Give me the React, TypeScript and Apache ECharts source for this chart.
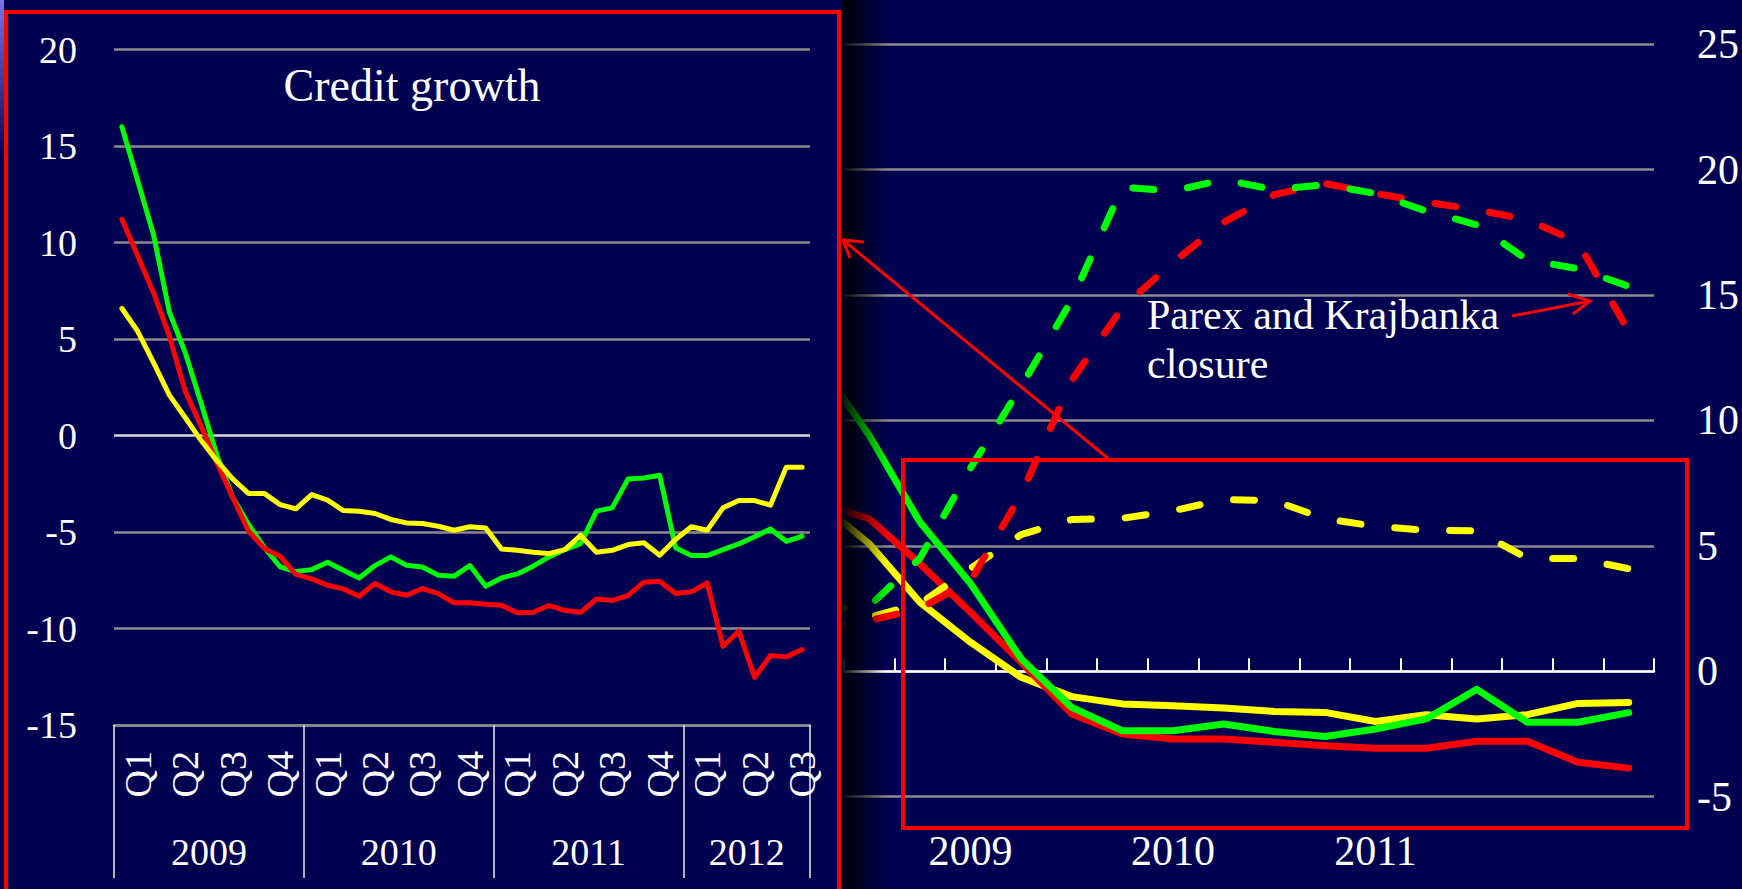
import React, { useEffect, useRef } from 'react';
import * as echarts from 'echarts';

const NAVY = '#000050';
const GREEN = '#00ff00';
const RED = '#ff0000';
const YELLOW = '#ffff00';
const GRID_GRAY = '#8a8a8a';
const FONT = "'Liberation Serif', 'Times New Roman', serif";

// ---------- Inset: monthly credit growth, Jan 2009 – Aug 2012 ----------
const insetYears = ['2009', '2010', '2011', '2012'];
const insetMonthsPerYear = [12, 12, 12, 8];
const quarterNames = ['Q1', 'Q2', 'Q3', 'Q4'];
const insetYMin = -15;
const insetYMax = 20;
const insetYStep = 5;
const insetTitle = 'Credit growth';

const creditGreen = [
  16.0, 13.2, 10.4, 6.4, 4.3, 1.7, -1.0, -3.2, -4.6, -5.8, -6.8, -7.05,
  -6.95, -6.57, -6.98, -7.38, -6.74, -6.29, -6.72, -6.81, -7.24, -7.29, -6.74, -7.81,
  -7.38, -7.17, -6.77, -6.29, -5.91, -5.6, -3.92, -3.75, -2.25, -2.2, -2.06, -5.82,
  -6.22, -6.22, -5.91, -5.62, -5.25, -4.84, -5.48, -5.22,
];
const creditRed = [
  11.2, 9.3, 7.4, 5.15, 2.3, 0.5, -1.4, -3.2, -4.95, -5.85, -6.26, -7.2,
  -7.43, -7.76, -7.95, -8.33, -7.67, -8.1, -8.28, -7.93, -8.19, -8.67, -8.67, -8.74,
  -8.8, -9.19, -9.16, -8.81, -9.06, -9.16, -8.47, -8.55, -8.28, -7.6, -7.55, -8.19,
  -8.1, -7.64, -10.92, -10.14, -12.53, -11.4, -11.47, -11.09,
];
const creditYellow = [
  6.58, 5.4, 3.78, 2.09, 0.93, -0.25, -1.3, -2.25, -3.0, -3.0, -3.58, -3.8,
  -3.06, -3.35, -3.89, -3.92, -4.04, -4.35, -4.53, -4.56, -4.7, -4.91, -4.73, -4.79,
  -5.88, -5.95, -6.05, -6.12, -5.91, -5.18, -6.05, -5.95, -5.65, -5.56, -6.2, -5.39,
  -4.73, -4.91, -3.75, -3.37, -3.37, -3.61, -1.64, -1.64,
];

// ---------- Background chart: quarterly, 2008Q1 – 2012Q2 ----------
const bgQuarters = [
  '2008Q1', '2008Q2', '2008Q3', '2008Q4',
  '2009Q1', '2009Q2', '2009Q3', '2009Q4',
  '2010Q1', '2010Q2', '2010Q3', '2010Q4',
  '2011Q1', '2011Q2', '2011Q3', '2011Q4',
  '2012Q1', '2012Q2',
];
const bgYearLabels = ['2009', '2010', '2011'];
const bgYMin = -5;
const bgYMax = 25;
const bgYStep = 5;
const annotationText = 'Parex and Krajbanka\nclosure';

const solidGreen = [13.5, 12.3, 9.4, 5.95, 3.5, 0.5, -1.44, -2.37, -2.37, -2.1, -2.4, -2.6, -2.3, -1.9, -0.72, -2.03, -2.03, -1.65];
const solidRed = [7.2, 6.7, 6.08, 4.29, 2.35, 0.36, -1.7, -2.5, -2.7, -2.7, -2.83, -2.97, -3.07, -3.07, -2.79, -2.79, -3.63, -3.86];
const solidYellow = [7.5, 6.75, 5.08, 2.75, 1.16, -0.24, -1.01, -1.3, -1.37, -1.46, -1.6, -1.64, -2.0, -1.73, -1.9, -1.73, -1.28, -1.24];
const dashedGreen = [2.3, 2.45, 2.6, 4.5, 8.1, 11.35, 14.8, 19.3, 19.15, 19.6, 19.2, 19.4, 19.05, 18.35, 17.8, 16.4, 16.05, 15.35];
const dashedRed = [1.4, 1.55, 2.02, 2.5, 3.6, 7.05, 11.6, 14.5, 16.3, 17.9, 19.0, 19.45, 19.05, 18.7, 18.4, 18.0, 17.1, 13.55];
const dashedYellow = [1.3, 1.6, 2.15, 2.7, 4.1, 5.45, 6.05, 6.1, 6.4, 6.85, 6.8, 6.08, 5.78, 5.62, 5.6, 4.5, 4.5, 4.09];

function buildInsetOption() {
  const monthNames: string[] = [];
  const monthQuarterLabel: string[] = [];
  insetYears.forEach((y, yi) => {
    for (let m = 0; m < insetMonthsPerYear[yi]; m++) {
      monthNames.push(`${y}-${m + 1}`);
      monthQuarterLabel.push(m % 3 === 1 ? quarterNames[Math.floor(m / 3)] : '');
    }
  });
  const totalMonths = monthNames.length;
  const slotNames: string[] = [];
  const slotLabel: string[] = [];
  for (let s = 0; s <= totalMonths * 2; s++) {
    slotNames.push('s' + s);
    slotLabel.push('');
  }
  const separators = new Set<number>();
  let start = 0;
  insetYears.forEach((y, yi) => {
    const cnt = insetMonthsPerYear[yi];
    separators.add(start * 2);
    slotLabel[start * 2 + cnt] = y;
    start += cnt;
  });
  separators.add(start * 2);

  const lbl = { color: '#ffffff', fontFamily: FONT, fontSize: 38 };
  const mkSeries = (name: string, data: number[], color: string) => ({
    name,
    type: 'line',
    data,
    xAxisIndex: 0,
    symbol: 'none',
    lineStyle: { color, width: 5, join: 'round', cap: 'round' },
    itemStyle: { color },
  });

  return {
    animation: false,
    backgroundColor: NAVY,
    grid: { left: 114, top: 49.5, width: 696, height: 675.5, containLabel: false },
    graphic: [
      {
        type: 'rect',
        shape: { x: 0, y: 0, width: 4, height: 160 },
        style: {
          fill: new echarts.graphic.LinearGradient(0, 0, 0, 1, [
            { offset: 0, color: 'rgba(130,130,255,0.9)' },
            { offset: 1, color: 'rgba(130,130,255,0)' },
          ]),
        },
        z: 20,
        silent: true,
      },
      {
        type: 'rect',
        shape: { x: 6, y: 12, width: 833, height: 900 },
        style: { fill: 'transparent', stroke: RED, lineWidth: 4 },
        z: 20,
        silent: true,
      },
      {
        type: 'text',
        x: 412,
        y: 85,
        style: {
          text: insetTitle,
          fill: '#ffffff',
          fontFamily: FONT,
          fontSize: 46,
          align: 'center',
          verticalAlign: 'middle',
        },
        z: 20,
      },
    ],
    xAxis: [
      {
        type: 'category',
        data: monthNames,
        position: 'bottom',
        boundaryGap: true,
        axisLine: { onZero: false, lineStyle: { color: GRID_GRAY, width: 2.5 } },
        axisTick: { show: false },
        axisLabel: {
          ...lbl,
          interval: 0,
          rotate: 90,
          margin: 26,
          formatter: (_v: string, i: number) => monthQuarterLabel[i],
        },
        splitLine: { show: false },
      },
      {
        type: 'category',
        data: slotNames,
        position: 'bottom',
        boundaryGap: false,
        axisLine: { show: false, onZero: false },
        axisTick: {
          show: true,
          interval: (i: number) => separators.has(i),
          length: 153,
          lineStyle: { color: '#e8e8e8', width: 1.5 },
        },
        axisLabel: {
          ...lbl,
          interval: 0,
          margin: 108,
          formatter: (_v: string, i: number) => slotLabel[i],
        },
        splitLine: { show: false },
      },
    ],
    yAxis: {
      type: 'value',
      min: insetYMin,
      max: insetYMax,
      interval: insetYStep,
      axisLine: { show: false },
      axisTick: { show: false },
      axisLabel: { ...lbl, margin: 37 },
      splitLine: {
        lineStyle: {
          color: [GRID_GRAY, GRID_GRAY, GRID_GRAY, '#d8d8d8', GRID_GRAY, GRID_GRAY, GRID_GRAY, GRID_GRAY],
          width: 2.5,
        },
      },
    },
    series: [
      mkSeries('green', creditGreen, GREEN),
      mkSeries('red', creditRed, RED),
      mkSeries('yellow', creditYellow, YELLOW),
    ],
  };
}

function buildBackgroundOption() {
  const lbl = { color: '#ffffff', fontFamily: FONT, fontSize: 42 };
  const solid = (name: string, data: number[], color: string) => ({
    name,
    type: 'line',
    data,
    symbol: 'none',
    lineStyle: { color, width: 7, join: 'round', cap: 'round' },
    itemStyle: { color },
  });
  const dashed = (name: string, data: number[], color: string) => ({
    name,
    type: 'line',
    data,
    symbol: 'none',
    lineStyle: { color, width: 7, type: [21, 34], cap: 'round', join: 'round' },
    itemStyle: { color },
  });
  return {
    animation: false,
    backgroundColor: NAVY,
    grid: { left: 742.7, right: 87.7, top: 44.2, bottom: 92.3, containLabel: false },
    xAxis: [
      {
        type: 'category',
        data: bgQuarters,
        position: 'bottom',
        axisLine: { onZero: true, lineStyle: { color: '#ffffff', width: 2.5 } },
        axisTick: { show: true, inside: true, interval: 0, length: 13, lineStyle: { color: '#ffffff', width: 2 } },
        axisLabel: { show: false },
        splitLine: { show: false },
      },
      {
        type: 'category',
        data: bgQuarters,
        position: 'bottom',
        axisLine: { show: false, onZero: false },
        axisTick: { show: false },
        axisLabel: {
          ...lbl,
          interval: 0,
          margin: 33,
          formatter: (v: string) => {
            const y = v.slice(0, 4);
            return v.endsWith('Q1') && bgYearLabels.includes(y) ? y : '';
          },
        },
        splitLine: { show: false },
      },
    ],
    yAxis: {
      type: 'value',
      position: 'right',
      min: bgYMin,
      max: bgYMax,
      interval: bgYStep,
      axisLine: { show: false },
      axisTick: { show: false },
      axisLabel: { ...lbl, margin: 43 },
      splitLine: { lineStyle: { color: GRID_GRAY, width: 2.5 } },
    },
    graphic: [
      {
        type: 'rect',
        shape: { x: 841, y: 0, width: 46, height: 889 },
        style: {
          fill: new echarts.graphic.LinearGradient(0, 0, 1, 0, [
            { offset: 0, color: 'rgba(0,0,0,0.95)' },
            { offset: 1, color: 'rgba(0,0,0,0)' },
          ]),
        },
        z: 10,
        silent: true,
      },
      {
        type: 'rect',
        shape: { x: 903, y: 460, width: 784, height: 368 },
        style: { fill: 'transparent', stroke: RED, lineWidth: 4 },
        z: 20,
        silent: true,
      },
      {
        type: 'line',
        shape: { x1: 1110, y1: 460, x2: 843, y2: 240 },
        style: { stroke: RED, lineWidth: 3 },
        z: 20,
        silent: true,
      },
      {
        type: 'polyline',
        shape: { points: [[864, 242], [843, 240], [850, 258]] },
        style: { stroke: RED, lineWidth: 3, fill: 'transparent' },
        z: 20,
        silent: true,
      },
      {
        type: 'line',
        shape: { x1: 1512, y1: 316, x2: 1590, y2: 301 },
        style: { stroke: RED, lineWidth: 3 },
        z: 20,
        silent: true,
      },
      {
        type: 'polyline',
        shape: { points: [[1568, 294], [1590, 301], [1573, 314]] },
        style: { stroke: RED, lineWidth: 3, fill: 'transparent' },
        z: 20,
        silent: true,
      },
      {
        type: 'text',
        x: 1147,
        y: 290,
        style: {
          text: annotationText,
          fill: '#ffffff',
          fontFamily: FONT,
          fontSize: 42,
          lineHeight: 49,
          align: 'left',
          verticalAlign: 'top',
        },
        z: 20,
      },
    ],
    series: [
      solid('solid yellow', solidYellow, YELLOW),
      solid('solid red', solidRed, RED),
      solid('solid green', solidGreen, GREEN),
      dashed('dashed yellow', dashedYellow, YELLOW),
      dashed('dashed red', dashedRed, RED),
      dashed('dashed green', dashedGreen, GREEN),
    ],
  };
}

export default function App() {
  const bgRef = useRef<HTMLDivElement>(null);
  const insetRef = useRef<HTMLDivElement>(null);

  useEffect(() => {
    document.body.style.margin = '0';
    const bg = echarts.init(bgRef.current!, undefined, { renderer: 'svg' });
    bg.setOption(buildBackgroundOption() as any);
    const inset = echarts.init(insetRef.current!, undefined, { renderer: 'svg' });
    inset.setOption(buildInsetOption() as any);
    return () => {
      bg.dispose();
      inset.dispose();
    };
  }, []);

  return (
    <div
      style={{
        position: 'fixed',
        left: 0,
        top: 0,
        width: 1742,
        height: 889,
        background: NAVY,
        overflow: 'hidden',
      }}
    >
      <div ref={bgRef} style={{ position: 'absolute', left: 0, top: 0, width: 1742, height: 889 }} />
      <div ref={insetRef} style={{ position: 'absolute', left: 0, top: 0, width: 842, height: 889, zIndex: 2 }} />
    </div>
  );
}
